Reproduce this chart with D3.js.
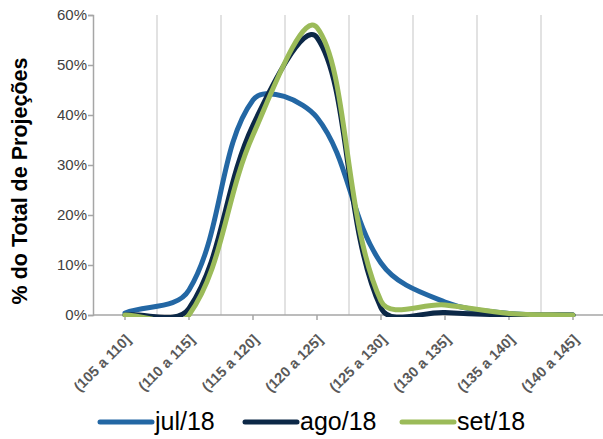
<!DOCTYPE html>
<html>
<head>
<meta charset="utf-8">
<script src="https://cdn.jsdelivr.net/npm/d3@7"></script>
<style>
  body { margin: 0; background: #fff; }
  svg { display: block; font-family: "Liberation Sans", Arial, sans-serif; }
</style>
</head>
<body>
<svg id="chart" width="603" height="439"></svg>
<script>
// categories and series (values in %)
let categories = ["(105 a 110]", "(110 a 115]", "(115 a 120]", "(120 a 125]",
                  "(125 a 130]", "(130 a 135]", "(135 a 140]", "(140 a 145]"];
let jul18 = [0.4, 5, 43, 39.5, 10.4, 2.6, 0.3, 0];
let ago18 = [0, 1.3, 38, 55.5, 1.4, 0.5, 0, 0];
let set18 = [0, 0, 36, 57.5, 2.8, 2, 0.3, 0];
let yTicks = [0, 10, 20, 30, 40, 50, 60];
let seriesNames = ["jul/18", "ago/18", "set/18"];

let colors = ["#2367a4", "#0c2847", "#9bbb59"];

let svg = d3.select("#chart");

let plotLeft = 93, plotRight = 605, plotTop = 15, plotBottom = 315;

let x = d3.scaleBand()
    .domain(categories)
    .range([plotLeft, plotRight])
    .padding(0);

let y = d3.scaleLinear()
    .domain([0, 60])
    .range([plotBottom, plotTop]);

let cx = (d) => x(d) + x.bandwidth() / 2;

// smoothed line like the spreadsheet one: bezier with tangents split by segment length
function smoothCurve(context) {
    let pts;
    let k = 0.36;
    function dist(a, b) { return Math.hypot(b[0] - a[0], b[1] - a[1]); }
    function ctrl(i, out) {
        let p = pts[i];
        let prev = pts[i - 1] || p;
        let next = pts[i + 1] || p;
        let d0 = dist(prev, p), d1 = dist(p, next);
        let r = out ? d1 / (d0 + d1) : d0 / (d0 + d1);
        let s = out ? k * r : -k * r;
        return [p[0] + (next[0] - prev[0]) * s, p[1] + (next[1] - prev[1]) * s];
    }
    return {
        areaStart() {}, areaEnd() {},
        lineStart() { pts = []; },
        point(px, py) { pts.push([+px, +py]); },
        lineEnd() {
            if (!pts.length) return;
            context.moveTo(pts[0][0], pts[0][1]);
            for (let i = 0; i < pts.length - 1; i++) {
                let c1 = ctrl(i, true), c2 = ctrl(i + 1, false);
                context.bezierCurveTo(c1[0], c1[1], c2[0], c2[1], pts[i + 1][0], pts[i + 1][1]);
            }
        }
    };
}

// vertical gridlines at the band edges
svg.append("g")
    .selectAll("line")
    .data(categories.slice(1))
    .enter().append("line")
        .attr("x1", (d) => x(d))
        .attr("x2", (d) => x(d))
        .attr("y1", plotTop)
        .attr("y2", plotBottom)
        .style("stroke", "#d9d9d9")
        .style("stroke-width", 1.5);

// y axis
let yAxis = svg.append("g")
    .attr("transform", "translate(" + plotLeft + ",0)")
    .call(d3.axisLeft(y).tickValues(yTicks).tickSize(5).tickFormat((d) => d + "%"));
yAxis.select(".domain").attr("stroke", "#a6a6a6").attr("stroke-width", 1.5);
yAxis.selectAll(".tick line").attr("stroke", "#a6a6a6").attr("stroke-width", 1.5);
yAxis.selectAll("text")
    .attr("x", -6)
    .style("font-size", "15px")
    .style("fill", "#404040");

// x axis
let xAxis = svg.append("g")
    .attr("transform", "translate(0," + plotBottom + ")");
xAxis.append("line")
    .attr("x1", plotLeft)
    .attr("x2", 603)
    .attr("stroke", "#a6a6a6")
    .attr("stroke-width", 1.5);
let xTick = xAxis.selectAll("g")
    .data(categories)
    .enter().append("g")
        .attr("transform", (d) => "translate(" + cx(d) + ",0)");
xTick.append("line")
    .attr("y2", 5)
    .attr("stroke", "#a6a6a6")
    .attr("stroke-width", 1.5);
xTick.append("text")
    .attr("transform", "translate(3,22)rotate(-45)")
    .attr("text-anchor", "end")
    .attr("dy", "0.35em")
    .text((d) => d)
    .style("font-size", "14.5px")
    .style("font-weight", "bold")
    .style("fill", "#595959");

// y axis title
svg.append("text")
    .attr("transform", "translate(27,181)rotate(-90)")
    .attr("text-anchor", "middle")
    .text("% do Total de Projeções")
    .style("font-size", "21.5px")
    .style("font-weight", "bold")
    .style("fill", "#000");

// series lines, clipped to the plot area
svg.append("clipPath")
    .attr("id", "plotClip")
    .append("rect")
        .attr("x", plotLeft)
        .attr("y", 0)
        .attr("width", plotRight - plotLeft)
        .attr("height", plotBottom + 2);

let line = d3.line()
    .x((d, i) => cx(categories[i]))
    .y((d) => y(d))
    .curve(smoothCurve);

let allSeries = [jul18, ago18, set18];
svg.append("g")
    .attr("clip-path", "url(#plotClip)")
    .selectAll("path")
    .data(allSeries)
    .enter().append("path")
        .attr("d", (d) => line(d))
        .style("fill", "none")
        .style("stroke", (d, i) => colors[i])
        .style("stroke-width", 5)
        .style("stroke-linecap", "round")
        .style("stroke-linejoin", "round");

// legend
let legendX = [100, 245, 402];
let legend = svg.append("g")
    .selectAll("g")
    .data(seriesNames)
    .enter().append("g")
        .attr("transform", (d, i) => "translate(" + legendX[i] + ",422)");
legend.append("line")
    .attr("x1", 0)
    .attr("x2", 52)
    .style("stroke", (d, i) => colors[i])
    .style("stroke-width", 5)
    .style("stroke-linecap", "round");
legend.append("text")
    .attr("x", 55)
    .attr("y", 8)
    .text((d) => d)
    .style("font-size", "25px")
    .style("fill", "#000");
</script>
</body>
</html>
